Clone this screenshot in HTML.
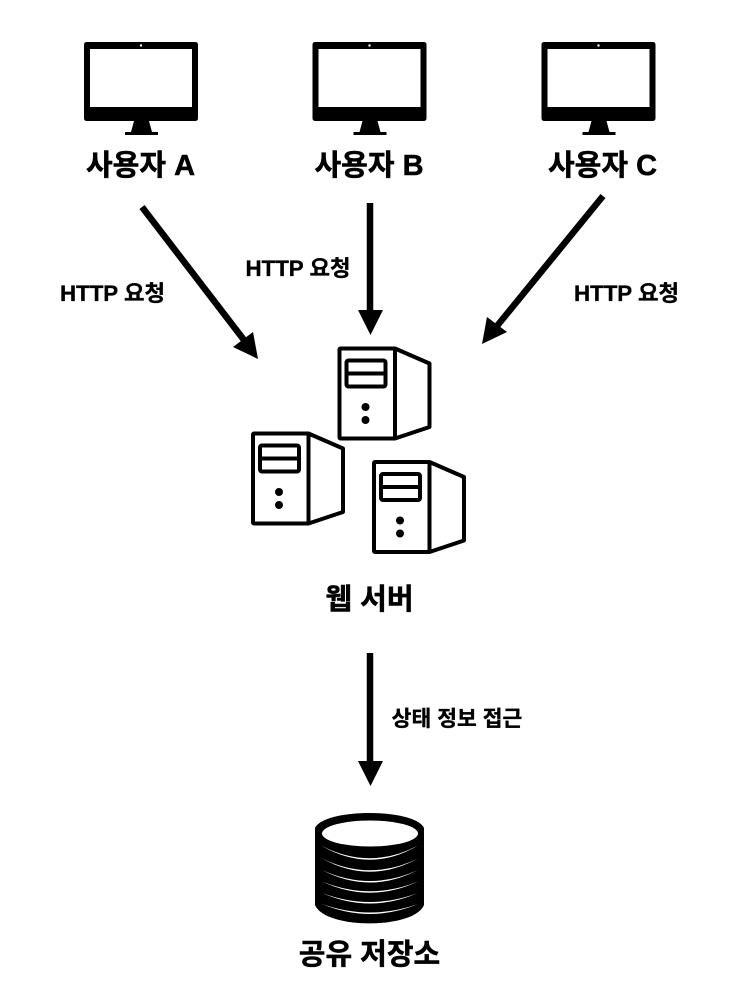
<!DOCTYPE html>
<html><head><meta charset="utf-8"><style>
html,body{margin:0;padding:0;background:#fff}
svg{display:block}
text{font-family:"Liberation Sans","Noto Sans CJK KR",sans-serif;font-weight:700;fill:#000;stroke:#000;text-anchor:middle}
.l{font-size:29px;stroke-width:.5px}.s{font-size:22.300px;stroke-width:.35px}
</style></head><body>
<svg width="730" height="1008" viewBox="0 0 730 1008" xmlns="http://www.w3.org/2000/svg">
<defs>
<g id="m">
<rect x="84" y="42" width="114" height="79" rx="2.500" fill="#000"/>
<rect x="90" y="49" width="102" height="58" fill="#fff"/>
<circle cx="141" cy="45.500" r="1.200" fill="#fff"/>
<path d="M134 121H149L152 132H158V135H125V132H131Z" fill="#000"/>
</g>
<g id="sv" fill="#fff" stroke="#000" stroke-width="4" stroke-linejoin="round">
<rect x="339.500" y="348.500" width="55.500" height="90" rx="1"/>
<path d="M395 348.500L429.500 363.500V427L395 438.500Z"/>
<rect x="346.500" y="360.500" width="39" height="26" rx="2"/>
<path d="M346.500 373.500H385.500" fill="none"/>
<circle cx="365.500" cy="407" r="4" fill="#000" stroke="none"/>
<circle cx="365.500" cy="420" r="4" fill="#000" stroke="none"/>
</g>
</defs>

<use href="#m"/>
<use href="#m" x="228.500"/>
<use href="#m" x="457.500"/>
<text class="l" x="140.500" y="175">사용자 A</text>
<text class="l" x="369" y="175">사용자 B</text>
<text class="l" x="602.500" y="175">사용자 C</text>

<g stroke="#000" stroke-width="6.500" fill="none">
<path d="M142 207L244 340"/>
<path d="M370 203V312"/>
<path d="M603 196L497 326"/>
<path d="M370 653V763"/>
</g>
<g fill="#000">
<path d="M258 359L233 347L253 332Z"/>
<path d="M370.500 335L358 310H383Z"/>
<path d="M482 344L487 317L507 332Z"/>
<path d="M370.500 786L358 761H383Z"/>
</g>
<text class="s" x="112.500" y="301">HTTP 요청</text>
<text class="s" x="298" y="276">HTTP 요청</text>
<text class="s" x="626.500" y="301">HTTP 요청</text>

<use href="#sv"/>
<use href="#sv" x="-86.500" y="85"/>
<use href="#sv" x="34.500" y="113.500"/>
<text class="l" x="369.500" y="609">웹 서버</text>
<text class="s" style="font-size:21.500px" x="457" y="726">상태 정보 접근</text>

<g>
<path d="M315 828C324 808 415 808 424 828V905C414 929.500 325 929.500 315 905Z" fill="#000"/>
<ellipse cx="370" cy="833.500" rx="48" ry="13" fill="#fff"/>
<g fill="#fff">
<path d="M321 845.500Q370 871 418 845.500Q370 874 321 845.500Z"/>
<path d="M322 858.500Q370 882 418 858.500Q370 885 322 858.500Z"/>
<path d="M322 870Q370 892 418 870Q370 895 322 870Z"/>
<path d="M322 881.500Q370 901 418 881.500Q370 904 322 881.500Z"/>
<path d="M322 893Q370 911 418 893Q370 914 322 893Z"/>
<path d="M322 904Q370 921 418 904Q370 924 322 904Z"/>
</g>
</g>
<text class="l" x="369.500" y="964">공유 저장소</text>
</svg>
</body></html>
